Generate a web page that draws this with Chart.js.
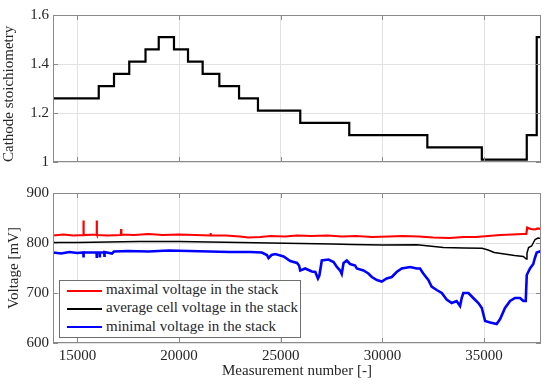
<!DOCTYPE html>
<html>
<head>
<meta charset="utf-8">
<script src="https://cdn.jsdelivr.net/npm/chart.js@4"></script>
<style>
  body { margin: 0; width: 550px; height: 384px; background: #fff; position: relative; overflow: hidden; }
  canvas { position: absolute; left: 0; }
  #top { top: 0; }
  #bot { top: 180px; }
  .box { position: absolute; left: 59px; top: 280px; width: 240px; height: 56px; border: 1px solid #6e6e6e; background: #fff; }
  .row { position: absolute; left: 67px; font-family: "Liberation Serif", "Times New Roman", serif; font-size: 15px; line-height: 18.3px; color: #262626; white-space: nowrap; }
  .row span { display: inline-block; width: 35px; height: 2px; vertical-align: middle; margin-right: 4px; }
</style>
</head>
<body>
<canvas id="top" width="550" height="180"></canvas>
<canvas id="bot" width="550" height="204"></canvas>
<div class="box"></div>
<div class="row" style="top:280px"><span style="background:#ff0000"></span>maximal voltage in the stack</div>
<div class="row" style="top:298.3px"><span style="background:#000"></span>average cell voltage in the stack</div>
<div class="row" style="top:316.6px"><span style="background:#0000ff"></span>minimal voltage in the stack</div>
<script>
// measurement number axis
const xTicks = [15000, 20000, 25000, 30000, 35000];
const stoichTicks = [1, 1.2, 1.4, 1.6];
const voltTicks = [600, 700, 800, 900];

// cathode stoichiometry steps (value holds from x until next x)
const stoichX = [13800, 16050, 16800, 17550, 18350, 19000, 19750, 20440, 21160, 21980, 22950, 23880, 25960, 28370, 32210, 34890, 37100, 37590, 37800];
const stoichY = [1.26, 1.31, 1.36, 1.41, 1.46, 1.51, 1.46, 1.41, 1.36, 1.31, 1.26, 1.21, 1.16, 1.11, 1.06, 1.01, 1.11, 1.51, 1.51];

// maximal voltage
const maxX = [13800, 14300, 14800, 15290, 15300, 15310, 15940, 15950, 15960, 16500, 17140, 17150, 17160, 17800, 18500, 19200, 20000, 20800, 21540, 21550, 21560, 22300, 23000, 23400, 24000, 24500, 25200, 25800, 26500, 27300, 28000, 28700, 29500, 30300, 31000, 31800, 32500, 33300, 34000, 34600, 35200, 35800, 36400, 36900, 37080, 37120, 37300, 37500, 37650, 37800];
const maxV = [815, 817, 815, 816, 845, 816, 817, 845, 816, 815, 816, 828, 817, 816, 818, 816, 817, 816, 815, 820, 815, 815, 813, 811, 812, 814, 813, 815, 814, 815, 813, 814, 812, 813, 814, 813, 811, 810, 812, 812, 814, 816, 817, 818, 818, 831, 828, 827, 829, 828];

// average cell voltage
const avgX = [13800, 15000, 16500, 18000, 20000, 21500, 23000, 24500, 26000, 27500, 28500, 30000, 31700, 32300, 33000, 34000, 34900, 35200, 35500, 36000, 36500, 36930, 37080, 37110, 37190, 37340, 37510, 37650, 37800];
const avgV = [801, 801, 802, 803, 803, 802, 801, 800, 799, 798, 797, 796, 796.5, 794, 791, 790, 789.5, 786, 781, 778, 775, 773, 768, 780, 791, 794, 807, 810, 809];

// minimal voltage
const minX = [13800, 14200, 14600, 15000, 15290, 15300, 15310, 15940, 15950, 15960, 16090, 16100, 16110, 16320, 16330, 16340, 16700, 16800, 17500, 18500, 19500, 20500, 21500, 22500, 23500, 24070, 24320, 24400, 24550, 24730, 25140, 25470, 25800, 25900, 25960, 26200, 26530, 26700, 26830, 26900, 27020, 27350, 27600, 27760, 27920, 28000, 28090, 28250, 28410, 28660, 28740, 29070, 29310, 29480, 29730, 29970, 30210, 30460, 30700, 30950, 31360, 31690, 31850, 32010, 32260, 32420, 32670, 32920, 33160, 33410, 33650, 33820, 33900, 33980, 34230, 34470, 34720, 34890, 35050, 35300, 35620, 35790, 36030, 36280, 36520, 36770, 36930, 37050, 37100, 37260, 37420, 37500, 37590, 37800];
const minV = [781, 779, 782, 780, 781, 771, 781, 781, 770, 781, 781, 771, 781, 781, 772, 782, 779, 783, 784, 783, 785, 784, 783, 782, 782, 781, 776, 770, 776, 778, 773, 764, 760, 755, 745, 749, 743, 742, 729, 735, 765, 767, 762, 752, 745, 738, 760, 765, 758, 755, 749, 745, 739, 732, 726, 723, 729, 732, 742, 749, 752, 749, 749, 739, 726, 713, 706, 700, 687, 680, 684, 674, 690, 700, 700, 690, 680, 670, 644, 641, 638, 648, 670, 684, 690, 690, 684, 684, 736, 749, 758, 770, 781, 784];

const pts = (xs, ys) => xs.map((x, i) => ({ x: x, y: ys[i] }));

const serif = { family: "'Liberation Serif', 'Times New Roman', serif", size: 15 };
Chart.defaults.font.family = serif.family;
Chart.defaults.font.size = 15;
Chart.defaults.color = '#262626';

// matlab style box with inward ticks
const frame = {
  id: 'frame',
  afterDatasetsDraw(chart) {
    const { ctx, chartArea: a, scales: { x, y } } = chart;
    ctx.save();
    ctx.strokeStyle = '#8a8a8a';
    ctx.lineWidth = 1;
    ctx.strokeRect(a.left + 0.5, a.top + 0.5, a.right - a.left - 1, a.bottom - a.top - 1);
    ctx.beginPath();
    x.ticks.forEach(t => {
      const p = Math.round(x.getPixelForValue(t.value)) + 0.5;
      ctx.moveTo(p, a.bottom); ctx.lineTo(p, a.bottom - 5);
      ctx.moveTo(p, a.top); ctx.lineTo(p, a.top + 5);
    });
    y.ticks.forEach(t => {
      const p = Math.round(y.getPixelForValue(t.value)) + 0.5;
      ctx.moveTo(a.left, p); ctx.lineTo(a.left + 5, p);
      ctx.moveTo(a.right, p); ctx.lineTo(a.right - 5, p);
    });
    ctx.stroke();
    ctx.restore();
  }
};

function xScale(showLabels, h) {
  return {
    type: 'linear', min: 13800, max: 37800,
    afterBuildTicks: s => { s.ticks = xTicks.map(v => ({ value: v })); },
    afterFit: s => { s.height = h; },
    grid: { color: '#e2e2e2', drawTicks: false },
    border: { display: false },
    ticks: { display: showLabels, padding: 4, maxRotation: 0, font: serif, callback: v => String(v) },
    title: { display: showLabels, text: 'Measurement number [-]', font: serif, padding: { top: 0, bottom: 4 } }
  };
}

function yScale(min, max, ticks, title, tpad, align) {
  return {
    type: 'linear', min: min, max: max,
    afterBuildTicks: s => { s.ticks = ticks.map(v => ({ value: v })); },
    afterFit: s => { s.width = 53; },
    grid: { color: '#e2e2e2', drawTicks: false },
    border: { display: false },
    ticks: { padding: 4, font: serif, callback: v => String(v) },
    title: { display: true, text: title, font: serif, align: align, padding: { top: tpad, bottom: 0 } }
  };
}

new Chart(document.getElementById('top'), {
  type: 'line',
  data: {
    datasets: [{ data: pts(stoichX, stoichY), borderColor: '#000', borderWidth: 2.2, stepped: 'before', pointRadius: 0 }]
  },
  options: {
    responsive: false, animation: false,
    layout: { padding: { top: 15, right: 9, left: 0, bottom: 0 } },
    plugins: { legend: { display: false }, tooltip: { enabled: false } },
    scales: { x: xScale(false, 18), y: yScale(1, 1.6, stoichTicks, 'Cathode stoichiometry', 0, 'start') }
  },
  plugins: [frame]
});

new Chart(document.getElementById('bot'), {
  type: 'line',
  data: {
    datasets: [
      { label: 'maximal voltage in the stack', data: pts(maxX, maxV), borderColor: '#ff0000', borderWidth: 2.2, pointRadius: 0 },
      { label: 'average cell voltage in the stack', data: pts(avgX, avgV), borderColor: '#000', borderWidth: 1.5, pointRadius: 0 },
      { label: 'minimal voltage in the stack', data: pts(minX, minV), borderColor: '#0000ff', borderWidth: 2.6, pointRadius: 0 }
    ]
  },
  options: {
    responsive: false, animation: false,
    layout: { padding: { top: 9, right: 9, left: 0, bottom: 0 } },
    plugins: { legend: { display: false }, tooltip: { enabled: false } },
    scales: { x: xScale(true, 41), y: yScale(600, 900, voltTicks, 'Voltage [mV]', 5, 'center') }
  },
  plugins: [frame]
});
</script>
</body>
</html>
